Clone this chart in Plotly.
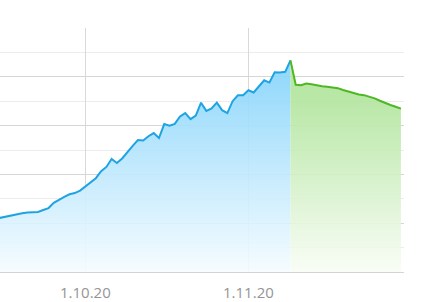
import pandas as pd
import plotly.graph_objects as go

blue_dates = pd.date_range("2020-09-14", "2020-11-09", freq="D")
blue_values = [10.92, 11.16, 11.43, 11.63, 11.80, 12.02, 12.18, 12.24, 12.29, 12.71,
               13.10, 14.18, 14.86, 15.41, 15.92, 16.18, 16.69, 17.55, 18.27, 19.22,
               20.65, 21.53, 23.16, 22.35, 23.27, 24.63, 25.86, 27.04, 26.95, 27.82,
               28.47, 27.45, 30.31, 30.00, 30.35, 31.88, 32.55, 31.33, 32.04, 34.69,
               33.02, 33.51, 34.70, 33.16, 32.55, 35.00, 36.22, 36.20, 37.24, 36.78,
               37.96, 39.29, 38.82, 40.92, 40.86, 41.02, 43.37]

green_dates = pd.date_range("2020-11-09", "2020-11-30", freq="D")
green_values = [43.37, 38.37, 38.27, 38.61, 38.47, 38.20, 38.06, 37.98, 37.86, 37.67,
                37.29, 36.94, 36.67, 36.37, 36.24, 35.98, 35.57, 35.10, 34.63, 34.22,
                33.86, 33.47]

tick_dates = ["2020-10-01", "2020-11-01"]
tick_labels = ["1.10.20", "1.11.20"]

fig = go.Figure()
fig.add_trace(go.Scatter(
    x=blue_dates, y=blue_values, mode="lines",
    line=dict(color="#1ea4e2", width=2),
    fill="tozeroy",
    fillgradient=dict(type="vertical", start=0, stop=40,
                      colorscale=[[0, "rgba(246,252,255,0.9)"], [1, "rgba(140,214,251,0.92)"]]),
    hoverinfo="skip",
))
fig.add_trace(go.Scatter(
    x=green_dates, y=green_values, mode="lines",
    line=dict(color="#4cb823", width=2),
    fill="tozeroy",
    fillgradient=dict(type="vertical", start=0, stop=36,
                      colorscale=[[0, "rgba(249,253,246,0.9)"], [1, "rgba(178,229,158,0.92)"]]),
    hoverinfo="skip",
))

fig.update_layout(
    width=448, height=302,
    margin=dict(l=0, r=44, t=28, b=28),
    paper_bgcolor="white", plot_bgcolor="white",
    showlegend=False,
    xaxis=dict(
        range=["2020-09-14 18:40", "2020-11-30 14:00"],
        tickvals=tick_dates, ticktext=tick_labels,
        showgrid=True, gridcolor="#d9d9d9", gridwidth=1,
        ticks="outside", ticklen=7, tickcolor="rgba(0,0,0,0)",
        tickfont=dict(family="Open Sans", size=15, color="#959595"),
        showline=True, linecolor="#d4d4d4", linewidth=1,
        zeroline=False, fixedrange=True,
    ),
    yaxis=dict(
        range=[0, 50], dtick=10,
        showticklabels=False,
        showgrid=True, gridcolor="#d6d6d6", gridwidth=1,
        minor=dict(dtick=5, showgrid=True, gridcolor="#ececec", gridwidth=1),
        zeroline=False, fixedrange=True,
    ),
)

fig.write_html("out.html")
